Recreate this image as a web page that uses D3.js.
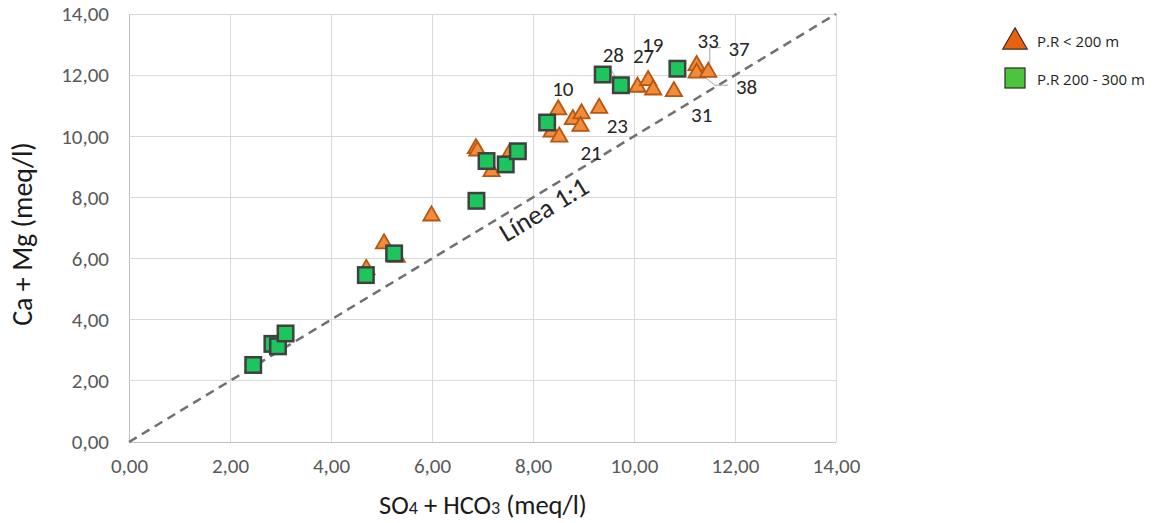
<!DOCTYPE html>
<html><head><meta charset="utf-8">
<script src="https://cdn.jsdelivr.net/npm/d3@7"></script>
<style>body{margin:0;background:#fff}svg{display:block}</style>
</head><body>
<svg id="c" width="1153" height="523"></svg>
<script>
// ---- data ----
const ticks = [0,2,4,6,8,10,12,14];
const seriesNames = ["P.R < 200 m", "P.R 200 - 300 m"];
const triX = [5.99,5.05,4.70,5.30,6.87,6.90,7.18,7.54,8.50,8.37,8.52,8.79,8.96,8.94,9.31,10.07,10.28,10.38,10.79,11.24,11.24,11.47];
const triY = [7.40,6.49,5.65,6.05,9.60,9.52,8.85,9.45,10.87,10.14,9.98,10.55,10.74,10.33,10.92,11.61,11.83,11.52,11.47,12.32,12.07,12.10];
const sqX = [2.46,2.84,2.95,3.10,4.69,5.25,6.88,7.08,7.46,7.70,8.28,9.38,9.74,10.86];
const sqY = [2.52,3.21,3.13,3.55,5.46,6.17,7.89,9.19,9.08,9.51,10.45,12.02,11.67,12.21];
const labelText = ["10","28","27","19","33","37","38","31","23","21"];
const labelX = [8.59,9.59,10.19,10.37,11.47,12.08,12.23,11.34,9.67,9.15];
const labelY = [11.57,12.67,12.65,13.00,13.14,12.87,11.61,10.71,10.34,9.45];
const leaders = [
  [[9.55,12.16],[9.73,11.67]],
  [[11.72,12.90],[11.50,12.90],[11.50,12.38]],
  [[11.27,12.11],[11.60,11.67],[11.86,11.67]]
];
const lineX = [0,14], lineY = [0,14];
const lineLabel = "Línea 1:1";

// ---- chart ----
const svg = d3.select("#c");
const L=129, R=836, T=14, B=442;
const x = d3.scaleLinear().domain([0,14]).range([L,R]);
const y = d3.scaleLinear().domain([0,14]).range([B,T]);
const fmt = d => d.toFixed(2).replace(".", ",");
const font = "Carlito, Calibri, 'Liberation Sans', sans-serif";

svg.append("rect").attr("width",1153).attr("height",523).attr("fill","#fff");

// grid
const g = svg.append("g");
g.selectAll(".vg").data(ticks).join("line")
  .attr("x1",d=>x(d)).attr("x2",d=>x(d)).attr("y1",T).attr("y2",B)
  .attr("stroke",d=>d===0?"#bfbfbf":"#d9d9d9").attr("stroke-width",1).attr("shape-rendering","crispEdges");
g.selectAll(".hg").data(ticks).join("line")
  .attr("y1",d=>y(d)).attr("y2",d=>y(d)).attr("x1",L).attr("x2",R)
  .attr("stroke",d=>d===0?"#bfbfbf":"#d9d9d9").attr("stroke-width",1).attr("shape-rendering","crispEdges");

// axes labels via d3 axes
const xAxis = svg.append("g").attr("transform",`translate(0,${B})`)
  .call(d3.axisBottom(x).tickValues(ticks).tickFormat(fmt).tickSize(0).tickPadding(16));
const yAxis = svg.append("g").attr("transform",`translate(${L},0)`)
  .call(d3.axisLeft(y).tickValues(ticks).tickFormat(fmt).tickSize(0).tickPadding(20));
[xAxis,yAxis].forEach(a=>{
  a.select(".domain").remove();
  a.selectAll("text").attr("font-family",font).attr("font-size",21).attr("fill","#595959");
});

// 1:1 line
svg.append("line").attr("x1",x(lineX[0])).attr("y1",y(lineY[0])).attr("x2",x(lineX[1])).attr("y2",y(lineY[1]))
  .attr("stroke","#707070").attr("stroke-width",2.5).attr("stroke-dasharray","9,6");
const ang = -Math.atan2(y(0)-y(14), x(14)-x(0))*180/Math.PI;
svg.append("text").attr("transform",`translate(${x(8.05)},${y(8.05)}) rotate(${ang})`)
  .attr("y",25).attr("text-anchor","middle").attr("font-family",font).attr("font-size",27).attr("fill","#262626")
  .text(lineLabel);

// leader lines
svg.selectAll(".ld").data(leaders).join("polyline")
  .attr("points",d=>d.map(p=>x(p[0])+","+y(p[1])).join(" "))
  .attr("fill","none").attr("stroke","#a6a6a6").attr("stroke-width",1);

// triangles
const tri = d3.symbol().type(d3.symbolTriangle).size(115);
svg.selectAll(".tri").data(triX.map((v,i)=>[v,triY[i]])).join("path")
  .attr("d",tri).attr("transform",d=>`translate(${x(d[0])},${y(d[1])})`)
  .attr("fill","#f08c3c").attr("stroke","#b8560f").attr("stroke-width",1.8).attr("stroke-linejoin","miter");

// squares
const sq = 15.5;
svg.selectAll(".sq").data(sqX.map((v,i)=>[v,sqY[i]])).join("rect")
  .attr("x",d=>x(d[0])-sq/2).attr("y",d=>y(d[1])-sq/2).attr("width",sq).attr("height",sq)
  .attr("fill","#1cc65c").attr("stroke","#404040").attr("stroke-width",2.5);

// point labels
svg.selectAll(".lb").data(labelText).join("text")
  .attr("x",(d,i)=>x(labelX[i])).attr("y",(d,i)=>y(labelY[i]))
  .attr("dy","0.35em").attr("text-anchor","middle")
  .attr("font-family",font).attr("font-size",21).attr("fill","#262626").text(d=>d);

// axis titles
svg.append("text").attr("transform",`translate(32,234) rotate(-90)`).attr("text-anchor","middle")
  .attr("font-family",font).attr("font-size",28).attr("fill","#1a1a1a").text("Ca + Mg (meq/l)");
const xt = svg.append("text").attr("x",483).attr("y",514).attr("text-anchor","middle")
  .attr("font-family",font).attr("font-size",26.5).attr("fill","#1a1a1a");
xt.append("tspan").text("SO");
xt.append("tspan").attr("font-size",18).text("4");
xt.append("tspan").text(" + HCO");
xt.append("tspan").attr("font-size",18).text("3");
xt.append("tspan").text(" (meq/l)");

// legend
const lg = svg.append("g").attr("transform","translate(1015,0)");
lg.append("path").attr("d",d3.symbol().type(d3.symbolTriangle).size(260)).attr("transform","translate(0,42)")
  .attr("fill","#e8620f").attr("stroke","#3a2a20").attr("stroke-width",1.2);
lg.append("rect").attr("x",-10).attr("y",68).attr("width",20).attr("height",20)
  .attr("fill","#4cc53c").attr("stroke","#2a2a2a").attr("stroke-width",1.2);
lg.selectAll(".lt").data(seriesNames).join("text")
  .attr("x",22).attr("y",(d,i)=>i===0?42:80).attr("dy","0.35em")
  .attr("font-family","'Liberation Sans Narrow', 'Open Sans', sans-serif").attr("font-size",15).attr("fill","#231f20")
  .text(d=>d);
</script>
</body></html>
